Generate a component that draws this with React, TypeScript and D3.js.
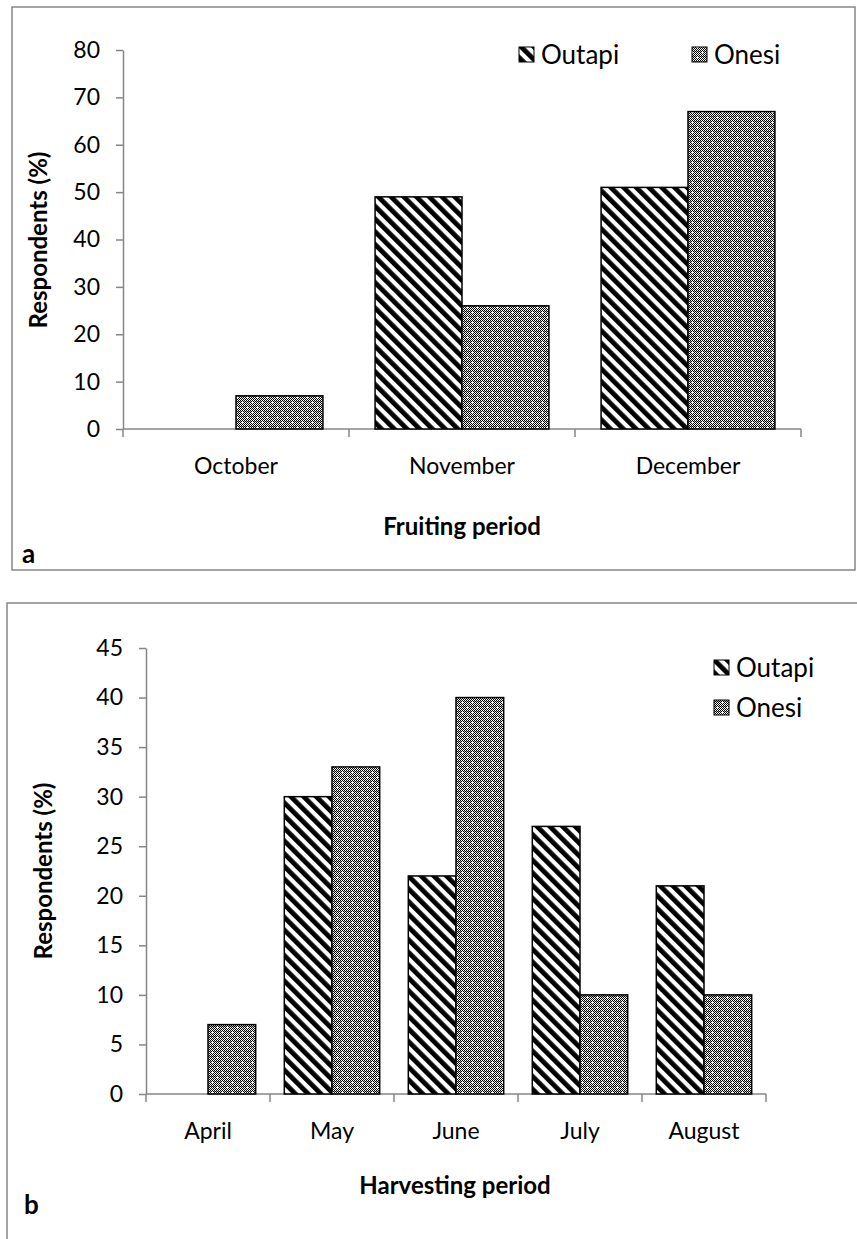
import React, { useRef, useEffect } from 'react';
import * as d3 from 'd3';

const fruitCategories = ['October', 'November', 'December'];
const fruitOutapi = [0, 49, 51];
const fruitOnesi = [7, 26, 67];
const fruitTicks = [0, 10, 20, 30, 40, 50, 60, 70, 80];

const harvestCategories = ['April', 'May', 'June', 'July', 'August'];
const harvestOutapi = [0, 30, 22, 27, 21];
const harvestOnesi = [7, 33, 40, 10, 10];
const harvestTicks = [0, 5, 10, 15, 20, 25, 30, 35, 40, 45];

const seriesNames = ['Outapi', 'Onesi'];

const FONT = 'Lato, Calibri, sans-serif';
const AXIS = '#868686';

export default function App() {
	const ref = useRef<SVGSVGElement>(null);

	useEffect(() => {
		if (!ref.current) return;
		const root = d3.select(ref.current);
		root.selectAll('*').remove();

		/* patterns for the two series */
		const defs = root.append('defs');
		const hatch = defs
			.append('pattern')
			.attr('id', 'hatch')
			.attr('patternUnits', 'userSpaceOnUse')
			.attr('width', 9)
			.attr('height', 9)
			.attr('patternTransform', 'rotate(-45)');
		hatch.append('rect').attr('width', 9).attr('height', 9).attr('fill', '#fff');
		hatch.append('rect').attr('width', 4.8).attr('height', 9).attr('fill', '#000');

		// fine checker with white specks, like Excel's dotted grid fill
		const dots = defs
			.append('pattern')
			.attr('id', 'dots')
			.attr('patternUnits', 'userSpaceOnUse')
			.attr('width', 10)
			.attr('height', 10);
		dots.append('rect').attr('width', 10).attr('height', 10).attr('fill', '#fff');
		for (let i = 0; i < 10; i++) {
			for (let j = 0; j < 10; j++) {
				if ((i + j) % 2 === 0) dots.append('rect').attr('x', i).attr('y', j).attr('width', 1).attr('height', 1).attr('fill', '#000');
			}
		}
		dots.append('rect').attr('x', 0).attr('y', 1).attr('width', 10).attr('height', 1).attr('fill', '#000').attr('opacity', 0.35);
		dots.append('rect').attr('x', 0).attr('y', 6).attr('width', 10).attr('height', 1).attr('fill', '#000').attr('opacity', 0.35);
		[[2, 2], [7, 7]].forEach(([cx, cy]) => {
			dots.append('rect').attr('x', cx - 1).attr('y', cy).attr('width', 3).attr('height', 1).attr('fill', '#fff');
			dots.append('rect').attr('x', cx).attr('y', cy - 1).attr('width', 1).attr('height', 3).attr('fill', '#fff');
		});
		const fills = ['url(#hatch)', 'url(#dots)'];

		const drawChart = (cfg: any) => {
			const g = root.append('g');

			g.append('rect')
				.attr('x', cfg.frame[0])
				.attr('y', cfg.frame[1])
				.attr('width', cfg.frame[2])
				.attr('height', cfg.frame[3])
				.attr('fill', '#fff')
				.attr('stroke', AXIS)
				.attr('stroke-width', 1.5);

			const x = d3.scaleBand().domain(cfg.categories).range([cfg.left, cfg.right]);
			const xs = d3.scaleBand().domain(seriesNames).range([0, x.bandwidth()]).paddingOuter(0.3);
			const y = d3.scaleLinear().domain([0, d3.max(cfg.ticks) as number]).range([cfg.bottom, cfg.top]);

			const yAxis = d3.axisLeft(y).tickValues(cfg.ticks).tickSize(7).tickSizeOuter(0).tickPadding(16);
			const ya = g.append('g').attr('transform', `translate(${cfg.left},0)`).call(yAxis);
			ya.select('.domain').attr('stroke', AXIS).attr('stroke-width', 1.5);
			ya.selectAll('.tick line').attr('stroke', AXIS).attr('stroke-width', 1.5);
			ya.selectAll('.tick text').attr('font-family', FONT).attr('font-size', 23).attr('fill', '#000');

			/* x axis with ticks between categories */
			g.append('line')
				.attr('x1', cfg.left)
				.attr('x2', cfg.right)
				.attr('y1', y(0))
				.attr('y2', y(0))
				.attr('stroke', AXIS)
				.attr('stroke-width', 1.5);
			const bounds = cfg.categories.map((c: string) => x(c) as number).concat([cfg.right]);
			g.selectAll('.xtick')
				.data(bounds)
				.enter()
				.append('line')
				.attr('x1', (d: number) => d)
				.attr('x2', (d: number) => d)
				.attr('y1', y(0))
				.attr('y2', y(0) + 8)
				.attr('stroke', AXIS)
				.attr('stroke-width', 1.5);

			g.selectAll('.xlabel')
				.data(cfg.categories)
				.enter()
				.append('text')
				.attr('x', (d: string) => (x(d) as number) + x.bandwidth() / 2)
				.attr('y', cfg.labelY)
				.attr('text-anchor', 'middle')
				.attr('font-family', FONT)
				.attr('font-size', 23)
				.text((d: string) => d);

			cfg.series.forEach((vals: number[], si: number) => {
				const rows = vals.map((v, i) => ({ v, c: cfg.categories[i] })).filter((d) => d.v > 0);
				g.selectAll('.bar' + si)
					.data(rows)
					.enter()
					.append('rect')
					.attr('x', (d: any) => (x(d.c) as number) + (xs(seriesNames[si]) as number))
					.attr('y', (d: any) => y(d.v))
					.attr('width', xs.bandwidth())
					.attr('height', (d: any) => y(0) - y(d.v))
					.attr('fill', fills[si])
					.attr('stroke', '#000')
					.attr('stroke-width', 1.5);
			});

			cfg.legend.forEach((pos: number[], si: number) => {
				g.append('rect')
					.attr('x', pos[0])
					.attr('y', pos[1])
					.attr('width', 15)
					.attr('height', 15)
					.attr('fill', fills[si])
					.attr('stroke', '#000')
					.attr('stroke-width', 1);
				g.append('text')
					.attr('x', pos[0] + 22)
					.attr('y', pos[1] + 17)
					.attr('font-family', FONT)
					.attr('font-size', 26)
					.text(seriesNames[si]);
			});

			g.append('text')
				.attr('transform', `translate(${cfg.yTitle[0]},${cfg.yTitle[1]}) rotate(-90)`)
				.attr('text-anchor', 'middle')
				.attr('font-family', FONT)
				.attr('font-weight', 'bold')
				.attr('font-size', 24)
				.text('Respondents (%)');

			g.append('text')
				.attr('x', cfg.xTitle[0])
				.attr('y', cfg.xTitle[1])
				.attr('text-anchor', 'middle')
				.attr('font-family', FONT)
				.attr('font-weight', 'bold')
				.attr('font-size', 24)
				.text(cfg.xTitleText);

			g.append('text')
				.attr('x', cfg.letter[0])
				.attr('y', cfg.letter[1])
				.attr('font-family', FONT)
				.attr('font-weight', 'bold')
				.attr('font-size', 26)
				.text(cfg.letterText);
		};

		drawChart({
			frame: [12, 7, 843, 563],
			categories: fruitCategories,
			series: [fruitOutapi, fruitOnesi],
			ticks: fruitTicks,
			left: 123,
			right: 801,
			top: 50,
			bottom: 429,
			labelY: 474,
			legend: [[519, 47], [692, 47]],
			yTitle: [47, 240],
			xTitle: [462, 535],
			xTitleText: 'Fruiting period',
			letter: [22, 563],
			letterText: 'a',
		});

		drawChart({
			frame: [7, 603, 870, 700],
			categories: harvestCategories,
			series: [harvestOutapi, harvestOnesi],
			ticks: harvestTicks,
			left: 146,
			right: 766,
			top: 648,
			bottom: 1094,
			labelY: 1139,
			legend: [[714, 660], [714, 700]],
			yTitle: [52, 871],
			xTitle: [455, 1194],
			xTitleText: 'Harvesting period',
			letter: [24, 1214],
			letterText: 'b',
		});
	}, []);

	return <svg ref={ref} width={857} height={1239} style={{ position: 'absolute', left: 0, top: 0 }} />;
}
